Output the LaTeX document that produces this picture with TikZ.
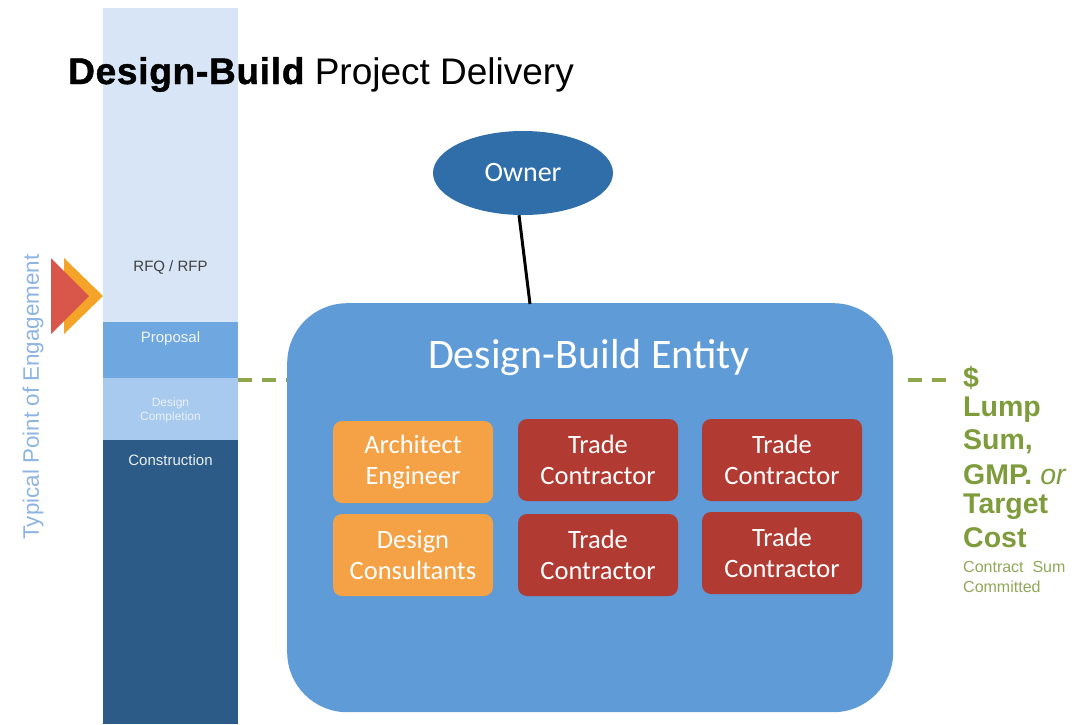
\documentclass[tikz,border=0pt]{standalone}
\usepackage{fontspec}
\setmainfont{Liberation Sans}
\newfontfamily\carl{Carlito}
\newfontfamily\heavy[FakeBold=1.2,LetterSpace=2]{Liberation Sans Bold}
\usetikzlibrary{shapes.geometric}
\definecolor{colA}{HTML}{D7E5F6}
\definecolor{colB}{HTML}{6FA7E0}
\definecolor{colC}{HTML}{A8CAEE}
\definecolor{colD}{HTML}{2B5B86}
\definecolor{ownerc}{HTML}{2F6EA8}
\definecolor{entc}{HTML}{5F9BD6}
\definecolor{orc}{HTML}{F5A145}
\definecolor{redc}{HTML}{B13B32}
\definecolor{grn}{HTML}{7E9C3C}
\definecolor{grnl}{HTML}{8FA85A}
\definecolor{dashc}{HTML}{8FA64C}
\definecolor{tri1}{HTML}{D9564A}
\definecolor{tri2}{HTML}{F5A42A}
\definecolor{vtext}{HTML}{8DB4E2}
\begin{document}
\begin{tikzpicture}[x=1pt,y=-1pt,
  seg/.style={draw=none,inner sep=0pt,minimum width=135pt,anchor=north west},
  subbox/.style={rounded corners=9pt,draw=none,minimum width=160pt,minimum height=82pt,text=white,font=\carl\fontsize{26.5}{31}\selectfont,align=center,inner sep=0pt},
  ar/.style={subbox,fill=orc},
  tr/.style={subbox,fill=redc},
  dashline/.style={draw=dashc,line width=4pt,dash pattern=on 14pt off 10pt},
  rt/.style={anchor=west,text=grn,font=\bfseries\fontsize{28.5}{30}\selectfont,inner sep=0pt},
  coltext/.style={font=\fontsize{15}{17}\selectfont}
]
\useasboundingbox (0,0) rectangle (1083,724);
% column
\node[seg,fill=colA,minimum height=314pt] (s1) at (103,8) {};
\node[seg,fill=colB,minimum height=56pt] (s2) at (103,322) {};
\node[seg,fill=colC,minimum height=62pt] (s3) at (103,378) {};
\node[seg,fill=colD,minimum height=284pt] (s4) at (103,440) {};
\node[coltext,text=black!75] (t1) at (170.5,267) {RFQ / RFP};
\node[coltext,text=white!90!colB] (t2) at (170.5,339) {Proposal};
\node[font=\fontsize{12}{14}\selectfont,text=white!75!colC,align=center] (t3) at (170.5,410) {Design\\Completion};
\node[coltext,text=white!90!colD] (t4) at (170.5,460) {Construction};
% title
\node[anchor=base west,inner sep=0pt,font=\fontsize{37}{40}\selectfont] (title) at (68,84) {{\heavy Design-Build} Project Delivery};
% triangles
\fill[tri2] (64,258) -- (103,296) -- (64,334) -- cycle;
\fill[tri1] (51,258) -- (89,296) -- (51,334) -- cycle;
\node[rotate=90,text=vtext,font=\fontsize{22.4}{26}\selectfont,inner sep=0pt] (vt) at (33,397) {Typical Point of Engagement};
% entity
\node[draw=none,fill=entc,rounded corners=60pt,minimum width=606pt,minimum height=409pt,anchor=north west,inner sep=0pt] (ent) at (287,303) {};
\node[text=white,font=\carl\fontsize{42}{46}\selectfont] (entt) at (589,358) {Design-Build Entity};
\node[ellipse,fill=ownerc,minimum width=180pt,minimum height=84pt,text=white,font=\carl\fontsize{28}{30}\selectfont] (owner) at (523,173) {Owner};
\coordinate (oc) at ([xshift=-4pt]owner.south);
\coordinate (ec) at (530,304);
\draw[line width=3pt] (oc) -- (ec);
\node[ar] (ae) at (413,462) {Architect\\Engineer};
\node[ar] (dc) at (413,555) {Design\\Consultants};
\node[tr] (tc1) at (598,460) {Trade\\Contractor};
\node[tr] (tc2) at (598,555) {Trade\\Contractor};
\node[tr] (tc3) at (782,460) {Trade\\Contractor};
\node[tr] (tc4) at (782,553) {Trade\\Contractor};
% dashed
\coordinate (dl) at (238,380);
\draw[dashline] (dl) -- (dl -| ent.west);
\coordinate (dr0) at (908,380);
\coordinate (dr) at (955,380);
\draw[dashline] (dr0) -- (dr);
% right text
\node[rt] (r0) at (963,378) {\$};
\node[rt] (r1) at (963,410) {Lump};
\node[rt] (r2) at (963,442) {Sum,};
\node[rt] (r3) at (963,475) {GMP. \textmd{\itshape or}};
\node[rt] (r4) at (963,507) {Target};
\node[rt] (r5) at (963,538) {Cost};
\node[anchor=west,inner sep=0pt,text=grnl,font=\fontsize{16}{18}\selectfont] (r6) at (963,567) {Contract\ \ Sum};
\node[anchor=west,inner sep=0pt,text=grnl,font=\fontsize{16}{18}\selectfont] (r7) at (963,587) {Committed};
\end{tikzpicture}
\end{document}
